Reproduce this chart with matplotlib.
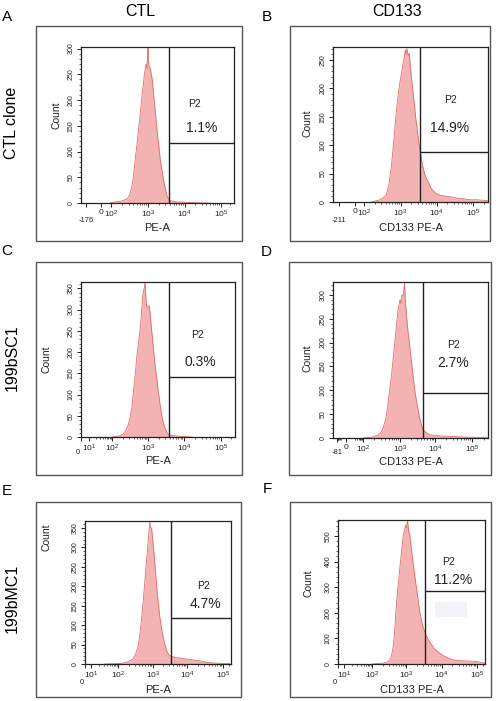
import matplotlib.pyplot as plt
import numpy as np
from matplotlib.patches import Rectangle
from matplotlib.ticker import FixedLocator, NullFormatter
from matplotlib.transforms import blended_transform_factory, offset_copy

plt.rcParams['font.family'] = ['Liberation Sans', 'DejaVu Sans']
plt.rcParams['mathtext.fontset'] = 'custom'
plt.rcParams['mathtext.rm'] = 'Liberation Sans'
plt.rcParams['mathtext.it'] = 'Liberation Sans'

W, H = 498, 701

# ---- data ----
col_titles = ['CTL', 'CD133']
row_titles = ['CTL clone', '199bSC1', '199bMC1']
letters = ['A', 'B', 'C', 'D', 'E', 'F']
xlabels = ['PE-A', 'CD133 PE-A', 'PE-A', 'CD133 PE-A', 'PE-A', 'CD133 PE-A']
gate_name = 'P2'
pcts = ['1.1%', '14.9%', '0.3%', '2.7%', '4.7%', '11.2%']
gate_x = [3760, 3590, 3760, 4450, 3480, 3400]
gate_y = [116, 88, 142, 95, 118, 284]
ymax = [303, 273, 365, 327, 368, 562]
ystep = [50, 50, 50, 50, 50, 100]
neg_tick = [-176, -211, None, -81, None, None]

# histogram traces: log10(PE intensity) and event count
a_dec = [1.8, 2.1, 2.3, 2.43, 2.5, 2.56, 2.61, 2.65, 2.7, 2.75, 2.8, 2.84, 2.88, 2.9, 2.93,
         2.95, 2.97, 2.99, 3.0, 3.01, 3.03, 3.06, 3.09, 3.11, 3.14, 3.17, 3.21, 3.25, 3.3,
         3.34, 3.39, 3.43, 3.48, 3.52, 3.56, 3.6, 3.7, 3.8, 3.95, 4.06, 4.25, 4.4, 4.7]
a_cnt = [0, 2, 4, 8, 15, 30, 52, 82, 112, 146, 180, 211, 232, 250, 262,
         270, 262, 285, 301, 278, 265, 262, 250, 243, 222, 198, 170, 140, 108,
         82, 60, 43, 25, 14, 9, 5, 3, 2, 2, 1, 1, 0, 0]

b_dec = [2.2, 2.39, 2.5, 2.61, 2.68, 2.75, 2.82, 2.89, 2.94, 2.98, 3.03, 3.07, 3.11, 3.13,
         3.15, 3.18, 3.21, 3.24, 3.28, 3.33, 3.38, 3.42, 3.47, 3.51, 3.56, 3.6, 3.66, 3.72,
         3.78, 3.85, 3.92, 3.99, 4.1, 4.27, 4.4, 4.54, 4.7, 4.91, 5.1, 5.28, 5.42]
b_cnt = [0, 3, 6, 12, 30, 62, 110, 162, 190, 209, 228, 244, 256, 268,
         260, 270, 258, 262, 235, 203, 175, 150, 125, 103, 85, 68, 52, 41,
         34, 24, 19, 15, 12, 10, 9, 7, 6, 4, 4, 3, 2]

c_dec = [2.0, 2.19, 2.3, 2.37, 2.45, 2.51, 2.56, 2.6, 2.65, 2.69, 2.74, 2.78, 2.82, 2.85,
         2.88, 2.9, 2.92, 2.94, 2.96, 2.99, 3.03, 3.06, 3.1, 3.15, 3.19, 3.24, 3.28, 3.33,
         3.37, 3.42, 3.47, 3.52, 3.56, 3.63, 3.7, 3.85, 3.97, 4.2]
c_cnt = [0, 2, 6, 13, 28, 48, 75, 111, 150, 189, 225, 252, 290, 330,
         345, 352, 365, 330, 306, 305, 310, 290, 252, 210, 173, 140, 111, 80,
         56, 36, 21, 12, 7, 4, 3, 2, 1, 0]

d_dec = [2.0, 2.25, 2.4, 2.48, 2.55, 2.62, 2.67, 2.72, 2.77, 2.81, 2.86, 2.91, 2.95, 3.0,
         3.03, 3.06, 3.09, 3.11, 3.13, 3.15, 3.19, 3.23, 3.28, 3.33, 3.38, 3.42, 3.47, 3.52,
         3.56, 3.61, 3.66, 3.75, 3.85, 4.0, 4.22, 4.5, 4.78, 5.16, 5.4]
d_cnt = [0, 2, 6, 11, 22, 42, 68, 99, 130, 162, 200, 240, 270, 290,
         282, 300, 297, 310, 327, 290, 254, 222, 191, 158, 127, 100, 78, 58,
         42, 28, 18, 11, 7, 5, 4, 3, 2, 1, 1]

e_dec = [1.5, 2.0, 2.14, 2.3, 2.43, 2.5, 2.57, 2.62, 2.67, 2.72, 2.77, 2.81, 2.85, 2.88,
         2.91, 2.93, 2.96, 2.99, 3.03, 3.07, 3.11, 3.15, 3.2, 3.25, 3.3, 3.35, 3.4, 3.45,
         3.49, 3.55, 3.64, 3.73, 3.83, 3.95, 4.07, 4.2, 4.36, 4.55, 4.7, 4.84, 5.1, 5.35]
e_cnt = [0, 1, 2, 6, 13, 25, 43, 72, 112, 160, 215, 260, 302, 335,
         366, 352, 349, 320, 284, 240, 198, 160, 121, 92, 69, 50, 34, 26,
         22, 20, 17, 16, 15, 13, 12, 10, 8, 4, 3, 2, 1, 1]

f_dec = [2.0, 2.32, 2.42, 2.51, 2.56, 2.61, 2.66, 2.7, 2.75, 2.8, 2.85, 2.9, 2.94, 2.97,
         3.0, 3.03, 3.06, 3.09, 3.13, 3.18, 3.23, 3.28, 3.33, 3.37, 3.42, 3.47, 3.52, 3.56,
         3.63, 3.7, 3.77, 3.85, 3.95, 4.04, 4.18, 4.32, 4.5, 4.7, 4.85, 4.99, 5.2, 5.4]
f_cnt = [0, 3, 7, 13, 30, 65, 135, 222, 295, 366, 430, 497, 520, 542,
         530, 562, 520, 510, 460, 405, 350, 300, 250, 209, 175, 144, 125, 111,
         92, 78, 64, 52, 42, 33, 24, 16, 13, 12, 11, 10, 6, 3]

decs = [a_dec, b_dec, c_dec, d_dec, e_dec, f_dec]
cnts = [a_cnt, b_cnt, c_cnt, d_cnt, e_cnt, f_cnt]

# ---- layout (pixels) ----
inner = [(81, 47, 234, 203), (333, 47, 488, 202), (81, 282, 235, 437),
         (333, 282, 488, 438), (85, 521, 231, 664), (338, 520, 485, 664)]
outer = [(36, 26, 242, 241), (290, 26, 490, 241), (36, 262, 242, 475),
         (289, 262, 491, 475), (36, 502, 241, 697), (290, 502, 491, 697)]
# biexponential display: axis value -> pixel anchors
anchor_v = [[-300, -176, 0, 1e2, 1e3, 1e4, 1e5, 262144],
            [-350, -211, 0, 1e2, 1e3, 1e4, 1e5, 262144],
            [0, 10, 1e2, 1e3, 1e4, 1e5, 262144],
            [-120, -81, 0, 1e2, 1e3, 1e4, 1e5, 262144],
            [0, 10, 1e2, 1e3, 1e4, 1e5, 262144],
            [0, 10, 1e2, 1e3, 1e4, 1e5, 262144]]
anchor_p = [[81, 86, 101, 111, 148, 184.5, 221, 234],
            [333, 339, 354.5, 364, 400.5, 436.5, 473, 488],
            [81, 89, 112, 148, 184, 221, 235],
            [333, 337, 346, 363, 400, 435, 472, 488],
            [85, 91, 118, 153, 187, 223, 231],
            [339, 345, 373, 407, 442, 477, 485]]
count_pos = [(56, 115), (307, 123), (47, 359), (307, 358), (46, 537), (308, 583)]
p2_pos = [(194, 104), (450, 100), (197, 335), (453, 345), (203, 586), (448, 562)]
pct_pos = [(202, 128), (450, 128), (200, 362), (453, 363), (205, 604), (453, 580)]
xlab_y = [228, 228, 461, 462, 690, 690]
low_y = [220, 220, 453, 453, 682, 682]
letter_pos = [(7, 17), (267, 17), (7, 251), (266, 252), (7, 491), (267, 489)]

fill_c = '#f4b3b3'
line_c = '#e26a6a'
ink = '#222222'


def fx(x):
    return x / W


def fy(y):
    return 1 - y / H


def tfun(x):
    x = np.asarray(x, dtype=float)
    return np.sign(x) * np.log10(1 + np.abs(x))


def make_scale(vals, pos):
    tv = tfun(vals)
    pos = np.asarray(pos, dtype=float)

    def fwd(x):
        return np.interp(tfun(x), tv, pos)

    def inv(p):
        t = np.interp(np.asarray(p, dtype=float), pos, tv)
        return np.sign(t) * (10 ** np.abs(t) - 1)
    return fwd, inv


fig = plt.figure(figsize=(W / 100, H / 100), dpi=100)

for i in range(6):
    l, t, r, b = inner[i]
    ax = fig.add_axes([fx(l), fy(b), (r - l) / W, (b - t) / H])
    ax.set_xscale('function', functions=make_scale(anchor_v[i], anchor_p[i]))
    ax.set_xlim(anchor_v[i][0], anchor_v[i][-1])
    ax.set_ylim(0, ymax[i])

    x = 10 ** np.asarray(decs[i])
    y = np.asarray(cnts[i])
    ax.fill_between(x, 0, y, color=fill_c, lw=0)
    ax.plot(x, y, color=line_c, lw=0.6)

    # gate
    ax.axvline(gate_x[i], color=ink, lw=1.0)
    ax.hlines(gate_y[i], gate_x[i], anchor_v[i][-1], color=ink, lw=1.0)

    # x ticks
    neg = neg_tick[i]
    if neg is not None:
        majors = [neg, 0, 1e2, 1e3, 1e4, 1e5]
        labs = ['', '0', '$10^2$', '$10^3$', '$10^4$', '$10^5$']
        kmin = 2
    else:
        majors = [0, 10, 1e2, 1e3, 1e4, 1e5]
        labs = ['', '$10^1$', '$10^2$', '$10^3$', '$10^4$', '$10^5$']
        kmin = 1
    minors = [m * 10 ** k for k in range(kmin, 5) for m in range(2, 10)] + [2e5]
    if i == 3:
        minors += [v for v in range(-80, 100, 10) if v != 0]
    ax.xaxis.set_major_locator(FixedLocator(majors))
    ax.set_xticklabels(labs)
    ax.xaxis.set_minor_locator(FixedLocator(minors))
    ax.xaxis.set_minor_formatter(NullFormatter())
    if neg is not None:
        ax.xaxis.get_major_ticks()[1].tick1line.set_markeredgewidth(2.5)
    tr = blended_transform_factory(ax.transData, fig.transFigure)
    if neg is not None:
        ax.text(neg, fy(low_y[i]), str(neg), transform=tr, ha='center', va='center',
                fontsize=5.5, color=ink)
    else:
        ax.text(0, fy(low_y[i]), '0', ha='right', va='center', fontsize=5.5, color=ink,
                transform=offset_copy(tr, fig=fig, x=-0.8, units='points'))

    # y ticks
    ax.yaxis.set_major_locator(FixedLocator(range(0, ymax[i], ystep[i])))
    ax.yaxis.set_minor_locator(FixedLocator(range(0, ymax[i], ystep[i] // 5)))
    for lab in ax.get_yticklabels():
        lab.set_rotation(90)
        lab.set_va('center')

    ax.tick_params(axis='both', which='major', length=3, width=0.7, color=ink,
                   labelsize=5, pad=1.5, labelcolor=ink)
    ax.tick_params(axis='both', which='minor', length=1.6, width=0.5, color=ink)
    ax.tick_params(axis='x', which='major', labelsize=6, pad=1)
    ax.tick_params(axis='y', which='major', labelsize=5)
    for sp in ax.spines.values():
        sp.set_color(ink)
        sp.set_linewidth(0.9)

    # labels
    fig.text(fx((l + r) / 2), fy(xlab_y[i]), xlabels[i], ha='center', va='center',
             fontsize=8, color=ink)
    fig.text(fx(count_pos[i][0]), fy(count_pos[i][1]), 'Count', rotation=90,
             ha='center', va='center', fontsize=7.5, color=ink)
    fig.text(fx(p2_pos[i][0]), fy(p2_pos[i][1]), gate_name, ha='center', va='center',
             fontsize=7.5, color=ink)
    fig.text(fx(pct_pos[i][0]), fy(pct_pos[i][1]), pcts[i], ha='center', va='center',
             fontsize=10, color=ink)
    fig.text(fx(letter_pos[i][0]), fy(letter_pos[i][1]), letters[i], ha='center',
             va='center', fontsize=11, color='black')

    ol, ot, orr, ob = outer[i]
    fig.add_artist(Rectangle((fx(ol), fy(ob)), (orr - ol) / W, (ob - ot) / H,
                             transform=fig.transFigure, fill=False,
                             edgecolor='#555555', lw=1.0))

# faint smudge inside the F gate
fig.add_artist(Rectangle((fx(435), fy(617)), 32 / W, 15 / H, transform=fig.transFigure,
                         facecolor='#f1f3f6', edgecolor='none'))

fig.text(fx(140), fy(11), col_titles[0], ha='center', va='center', fontsize=11.5)
fig.text(fx(397), fy(11), col_titles[1], ha='center', va='center', fontsize=11.5)
for name, yc in zip(row_titles, [123, 358, 598]):
    fig.text(fx(12), fy(yc), name, rotation=90, ha='center', va='center', fontsize=11.5)

fig.savefig('out.png', dpi=100)
